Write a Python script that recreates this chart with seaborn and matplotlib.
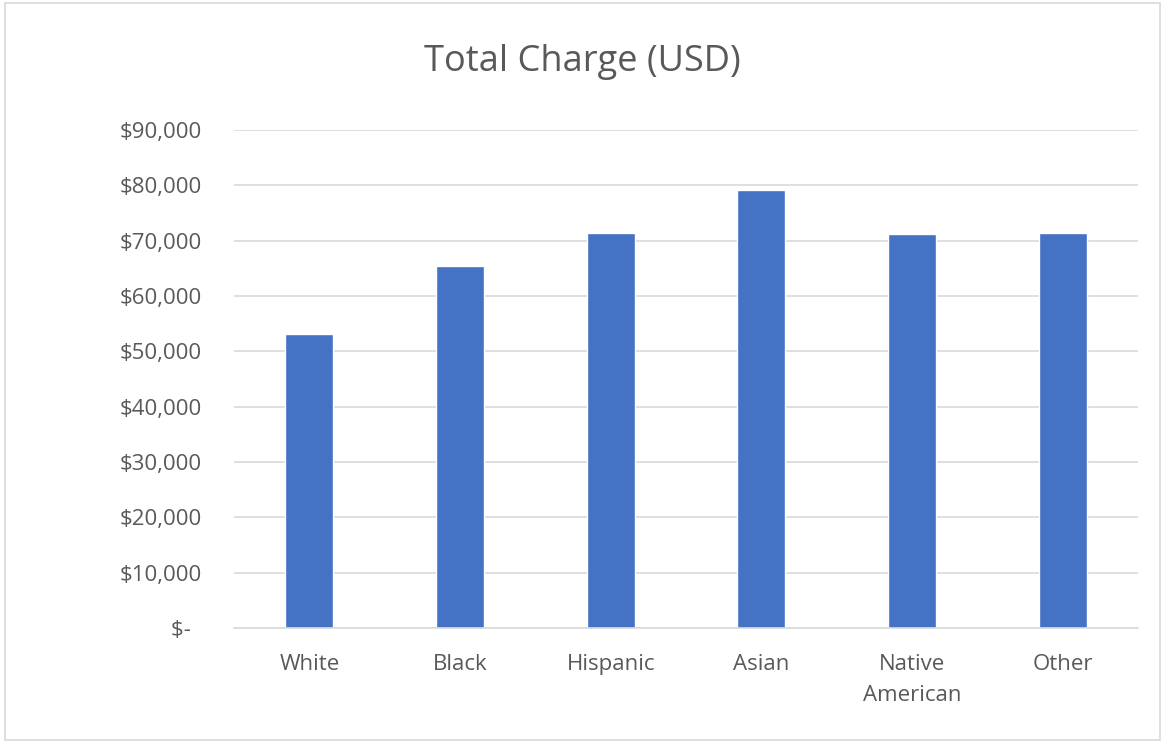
import matplotlib
matplotlib.use("Agg")
import matplotlib.pyplot as plt
import matplotlib.ticker as mticker
from matplotlib.patches import Rectangle
import pandas as pd
import seaborn as sns

# data
groups = ["White", "Black", "Hispanic", "Asian", "Native\nAmerican", "Other"]
total_charge = [53080, 65480, 71390, 79160, 71150, 71390]
y_ticks = [0, 10000, 20000, 30000, 40000, 50000, 60000, 70000, 80000, 90000]

df = pd.DataFrame({"group": groups, "charge": total_charge})

sns.set_theme(style="white")
plt.rcParams['font.family'] = ['Open Sans', 'DejaVu Sans']

text_grey = "#595959"
grid_grey = "#d9d9d9"

fig = plt.figure(figsize=(11.65, 7.43), dpi=100)
ax = fig.add_axes([0.2009, 0.1548, 0.7759, 0.6702])

sns.barplot(data=df, x="group", y="charge", color="#4472C4", saturation=1,
            width=0.32, ax=ax)

ax.set_ylim(0, 90000)
ax.set_yticks(y_ticks)

# accounting style: zero shows as a dash
def money(v, pos):
    if v == 0:
        return "$-  "
    return f"${v:,.0f}"

ax.yaxis.set_major_formatter(mticker.FuncFormatter(money))
ax.grid(axis="y", color=grid_grey, linewidth=1.2)
ax.set_axisbelow(True)
for side in ["left", "right", "top"]:
    ax.spines[side].set_visible(False)
ax.spines["bottom"].set_color(grid_grey)
ax.spines["bottom"].set_linewidth(1.2)

ax.tick_params(axis="y", length=0, pad=23, labelsize=16, labelcolor=text_grey)
ax.tick_params(axis="x", length=0, pad=19, labelsize=16, labelcolor=text_grey)
for lbl in ax.get_xticklabels():
    lbl.set_linespacing(1.6)
ax.set_xlabel("")
ax.set_ylabel("")

fig.text(0.5, 0.905, "Total Charge (USD)", ha="center", va="baseline",
         fontsize=26, color=text_grey)

# chart area border
fig.patches.append(Rectangle((0.004, 0.004), 0.992, 0.992, transform=fig.transFigure,
                             fill=False, edgecolor=grid_grey, linewidth=1.2))

fig.savefig("out.png", dpi=100, facecolor="white")
